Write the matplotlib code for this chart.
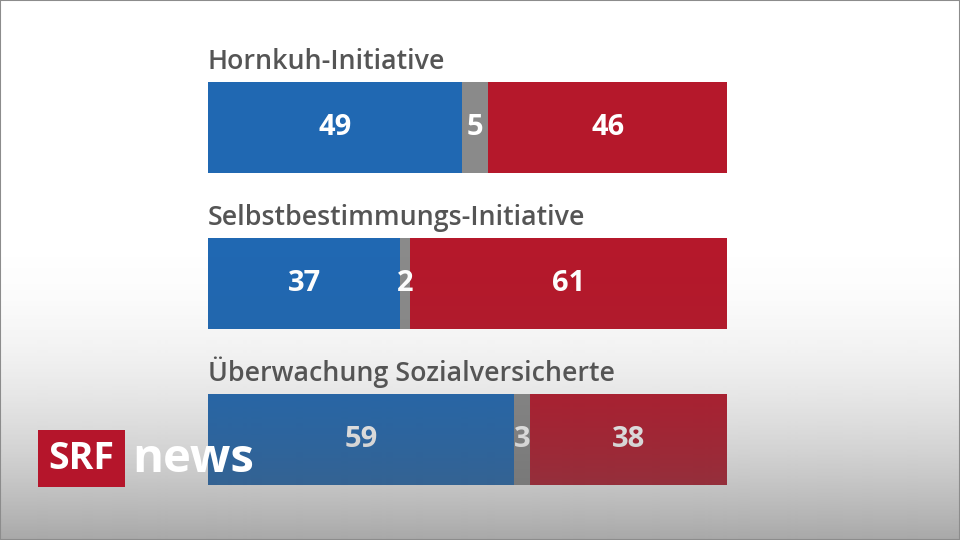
import numpy as np
import matplotlib
matplotlib.use("Agg")
import matplotlib.pyplot as plt
from matplotlib.patches import Rectangle

# Abstimmungsumfrage: Ja / weiss nicht / Nein (in Prozent)
vorlagen = ["Hornkuh-Initiative", "Selbstbestimmungs-Initiative", "Überwachung Sozialversicherte"]
ja = [49, 37, 59]
unentschieden = [5, 2, 3]
nein = [46, 61, 38]

BLUE = "#2068b2"
GREY = "#8a8a8a"
RED = "#b5182b"
TITLE_C = "#555555"
FONT = ["Open Sans", "DejaVu Sans"]

W, H = 960, 540
fig = plt.figure(figsize=(W / 100, H / 100), dpi=100)
fig.patch.set_facecolor("white")

# chart area in pixels (left, top, right, bottom)
x0, y0, x1, y1 = 208, 82, 727, 485
ax = fig.add_axes([x0 / W, 1 - y1 / H, (x1 - x0) / W, (y1 - y0) / H])
ax.set_zorder(1)

bar_h = 91 / 156
pos = np.arange(len(vorlagen))
left = np.zeros(len(vorlagen))
for vals, col in [(ja, BLUE), (unentschieden, GREY), (nein, RED)]:
    vals = np.array(vals, dtype=float)
    ax.barh(pos, vals, left=left, height=bar_h, color=col, linewidth=0)
    for p, l, v in zip(pos, left, vals):
        ax.text(l + v / 2, p, f"{v:.0f}", ha="center", va="center",
                color="white", fontsize=21, fontweight="bold", family=FONT)
    left += vals

for p, name in zip(pos, vorlagen):
    ax.annotate(name, xy=(0, p - bar_h / 2), xytext=(0, 9), textcoords="offset points",
                ha="left", va="baseline", fontsize=19.3, fontweight="semibold",
                color=TITLE_C, family=FONT)

ax.set_xlim(0, 100)
ax.set_ylim(pos[-1] + bar_h / 2, pos[0] - bar_h / 2)
ax.axis("off")

# grey fade towards the bottom, lying over the chart
yy = np.arange(H)
t = np.clip((yy - 230) / (H - 230), 0, 1)
alpha = 0.53 * t ** 2
ov = np.zeros((H, 1, 4))
ov[..., 0] = ov[..., 1] = ov[..., 2] = 90 / 255
ov[:, 0, 3] = alpha
ax_ov = fig.add_axes([0, 0, 1, 1])
ax_ov.set_zorder(5)
ax_ov.imshow(ov, aspect="auto", extent=(0, W, H, 0), interpolation="bilinear")
ax_ov.set_xlim(0, W)
ax_ov.set_ylim(H, 0)
ax_ov.axis("off")
ax_ov.patch.set_alpha(0)

# SRF news logo
fig.patches.append(Rectangle((38 / W, 1 - 487 / H), 87 / W, 57 / H,
                             transform=fig.transFigure, facecolor="#b5152b",
                             edgecolor="none", zorder=10))
fig.text(81.5 / W, 1 - 459 / H, "SRF", ha="center", va="center", color="white",
         fontsize=27, fontweight="bold", family=FONT, zorder=11)
fig.text(132 / W, 1 - 472 / H, "news", ha="left", va="baseline", color="white",
         fontsize=34, fontweight="bold", family=FONT, zorder=11)

# thin frame
fig.patches.append(Rectangle((0, 0), 1, 1, transform=fig.transFigure, fill=False,
                             edgecolor="#8c8c8c", linewidth=1.5, zorder=12))

fig.savefig("out.png", dpi=100)
